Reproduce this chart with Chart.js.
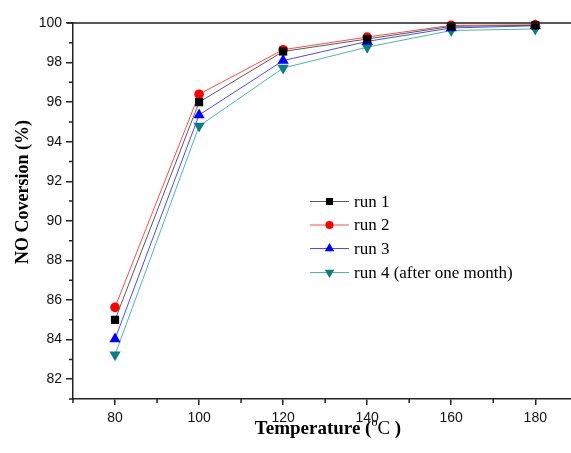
<!DOCTYPE html>
<html lang="en">
<head>
    <meta charset="UTF-8">
    <title>NO Coversion</title>
    <style>
        body { margin: 0; background: #fff; }
        #wrap { width: 571px; height: 453px; position: relative; }
    </style>
</head>
<body>
<div id="wrap"><canvas id="myChart"></canvas></div>
<script src="https://cdn.jsdelivr.net/npm/chart.js@4.4.1/dist/chart.umd.min.js"></script>
<script>
    // data
    const temps = [80, 100, 120, 140, 160, 180];
    const run1 = [85.0, 96.0, 98.56, 99.19, 99.83, 99.88];
    const run2 = [85.63, 96.4, 98.65, 99.29, 99.88, 99.91];
    const run3 = [84.03, 95.35, 98.1, 99.07, 99.75, 99.86];
    const run4 = [83.23, 94.79, 97.72, 98.78, 99.62, 99.7];
    const seriesNames = ['run 1', 'run 2', 'run 3', 'run 4 (after one month)'];
    const xTickLabels = [80, 100, 120, 140, 160, 180];
    const yTickLabels = [82, 84, 86, 88, 90, 92, 94, 96, 98, 100];

    const lineColors = ['#5a5a5a', '#ff4a4a', '#4a4aff', '#4ab4b4'];
    const markColors = ['#000000', '#ff0000', '#0000ff', '#0a7f7f'];
    const styles = [
        { pointStyle: 'rect', radius: 5.8, rotation: 0 },
        { pointStyle: 'circle', radius: 4.8, rotation: 0 },
        { pointStyle: 'triangle', radius: 6.5, rotation: 0 },
        { pointStyle: 'triangle', radius: 6.5, rotation: 180 }
    ];

    function makeSet(i, vals) {
        return {
            label: seriesNames[i],
            data: temps.map((t, k) => ({ x: t, y: vals[k] })),
            borderColor: lineColors[i],
            borderWidth: 1,
            backgroundColor: markColors[i],
            pointBackgroundColor: markColors[i],
            pointBorderColor: markColors[i],
            pointBorderWidth: 0,
            pointStyle: styles[i].pointStyle,
            pointRadius: styles[i].radius,
            pointRotation: styles[i].rotation,
            tension: 0,
            clip: false
        };
    }

    const axisColor = '#222';

    // minor ticks, top border, x title with superscript, legend
    const extras = {
        id: 'extras',
        afterDraw(chart) {
            const c = chart.ctx, a = chart.chartArea;
            const xs = chart.scales.x, ys = chart.scales.y;
            c.save();
            c.strokeStyle = axisColor;
            c.lineWidth = 1.5;
            c.beginPath();
            c.moveTo(a.left - 6, a.top);
            c.lineTo(chart.width, a.top);
            for (let v = 70; v <= 180; v += 20) {
                const px = xs.getPixelForValue(v);
                c.moveTo(px, a.bottom);
                c.lineTo(px, a.bottom + 4);
            }
            for (let v = 81; v < 100; v += 2) {
                const py = ys.getPixelForValue(v);
                c.moveTo(a.left, py);
                c.lineTo(a.left - 4, py);
            }
            c.stroke();

            // x title
            c.fillStyle = '#000';
            c.textBaseline = 'alphabetic';
            const boldF = 'bold 19px "Liberation Serif"';
            const regF = '19px "Liberation Serif"';
            const supF = '12px "Liberation Serif"';
            const parts = [
                { t: 'Temperature (', f: boldF, dy: 0 },
                { t: 'o', f: supF, dy: -8 },
                { t: 'C ', f: regF, dy: 0 },
                { t: ')', f: boldF, dy: 0 }
            ];
            let total = 0;
            parts.forEach(p => { c.font = p.f; p.w = c.measureText(p.t).width; total += p.w; });
            let x = 328 - total / 2;
            parts.forEach(p => { c.font = p.f; c.fillText(p.t, x, 434 + p.dy); x += p.w; });

            // y title
            c.save();
            c.translate(28, 192);
            c.rotate(-Math.PI / 2);
            c.font = 'bold 18px "Liberation Serif"';
            c.textAlign = 'center';
            c.fillText('NO Coversion (%)', 0, 0);
            c.restore();

            // legend
            const rows = [201.5, 225, 248.5, 272.5];
            c.font = '17px "Liberation Serif"';
            c.textBaseline = 'middle';
            c.textAlign = 'left';
            chart.data.datasets.forEach((ds, i) => {
                const y = rows[i];
                c.strokeStyle = lineColors[i];
                c.lineWidth = 1;
                c.beginPath();
                c.moveTo(310, y);
                c.lineTo(349, y);
                c.stroke();
                c.fillStyle = markColors[i];
                c.strokeStyle = markColors[i];
                Chart.helpers.drawPoint(c, {
                    pointStyle: styles[i].pointStyle,
                    radius: styles[i].radius * 0.85,
                    rotation: styles[i].rotation,
                    borderWidth: 0
                }, 329.5, y);
                c.fillStyle = '#000';
                c.fillText(ds.label, 354, y + 1);
            });
            c.restore();
        }
    };

    const ctx = document.getElementById('myChart').getContext('2d');
    const chart = new Chart(ctx, {
        type: 'line',
        data: {
            datasets: [makeSet(0, run1), makeSet(1, run2), makeSet(2, run3), makeSet(3, run4)]
        },
        options: {
            responsive: true,
            maintainAspectRatio: false,
            animation: false,
            layout: { autoPadding: false, padding: { top: 23, right: 0, left: 0, bottom: 0 } },
            plugins: { legend: { display: false }, tooltip: { enabled: false } },
            scales: {
                x: {
                    type: 'linear',
                    min: 70,
                    max: 188.5,
                    afterBuildTicks: s => { s.ticks = xTickLabels.map(v => ({ value: v })); },
                    afterFit: s => { s.height = 54; s.paddingLeft = 0; s.paddingRight = 0; },
                    grid: { drawOnChartArea: false, drawTicks: true, tickLength: 6, color: axisColor, lineWidth: 1.5 },
                    border: { color: axisColor, width: 1.5 },
                    ticks: {
                        color: '#111',
                        font: { family: '"Liberation Sans", Arial', size: 14 },
                        padding: 5,
                        maxRotation: 0
                    }
                },
                y: {
                    min: 81,
                    max: 100,
                    afterBuildTicks: s => { s.ticks = yTickLabels.map(v => ({ value: v })); },
                    afterFit: s => { s.width = 73; s.paddingTop = 0; s.paddingBottom = 0; },
                    grid: { drawOnChartArea: false, drawTicks: true, tickLength: 7, color: axisColor, lineWidth: 1.5 },
                    border: { color: axisColor, width: 1.5 },
                    ticks: {
                        color: '#111',
                        font: { family: '"Liberation Sans", Arial', size: 14 },
                        padding: 4
                    }
                }
            }
        },
        plugins: [extras]
    });
</script>
</body>
</html>
